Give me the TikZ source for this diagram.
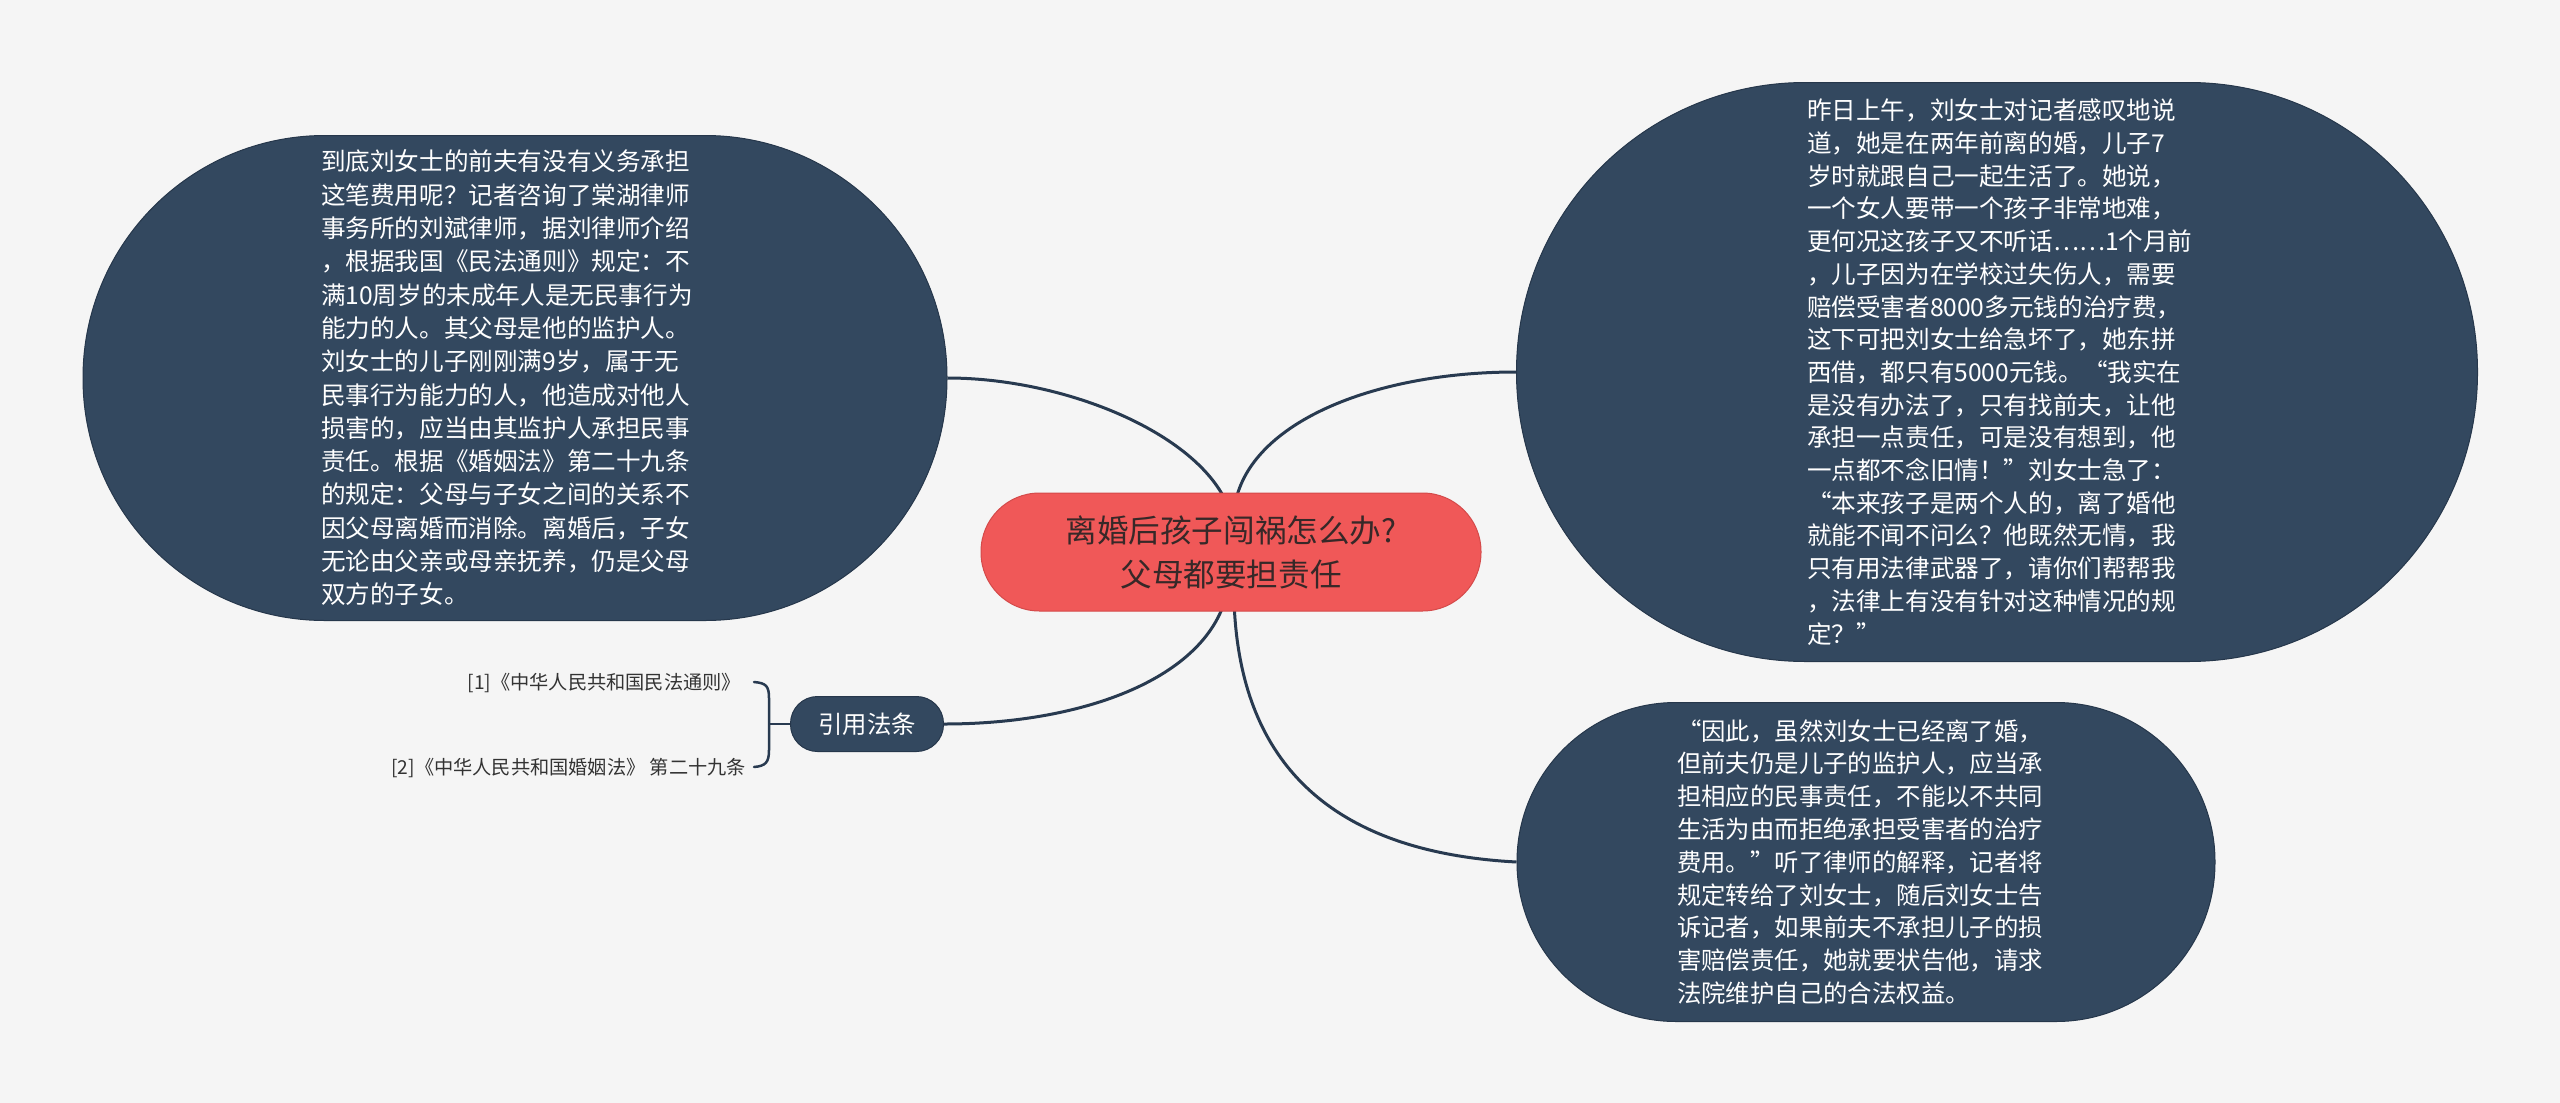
\documentclass[tikz,border=0pt]{standalone}
\usepackage{fontspec}
\newfontfamily\cjk{Noto Sans CJK SC}
\usetikzlibrary{calc}
\definecolor{bgcol}{RGB}{245,245,245}
\definecolor{nodeblue}{RGB}{51,72,95}
\definecolor{nodeedge}{RGB}{38,55,75}
\definecolor{linecol}{RGB}{40,58,80}
\definecolor{rootred}{RGB}{240,88,88}
\definecolor{rootedge}{RGB}{212,74,74}
\definecolor{roottext}{RGB}{55,40,40}
\definecolor{citetext}{RGB}{51,51,51}
\pgfdeclarelayer{bglayer}
\pgfsetlayers{bglayer,main}
\begin{document}
\begin{tikzpicture}[x=1pt,y=-1pt,
  dnode/.style={fill=nodeblue, draw=nodeedge, line width=1pt, inner sep=0pt,
    text=white, align=left},
  rootnode/.style={fill=rootred, draw=rootedge, line width=1pt, inner sep=0pt,
    text=roottext, align=center, font={\cjk\fontsize{31.6}{44}\selectfont},
    minimum width=500pt, minimum height=118pt, rounded corners=58.5pt},
  refnode/.style={fill=nodeblue, draw=nodeedge, line width=1pt, inner sep=0pt,
    text=white, font={\cjk\fontsize{24.4}{28}\selectfont},
    minimum width=153pt, minimum height=55pt, rounded corners=27pt},
  citenode/.style={inner sep=0pt, text=citetext, anchor=east,
    font={\cjk\fontsize{19.2}{23}\selectfont}},
  conn/.style={draw=linecol, line width=3pt}
]
\useasboundingbox (0,0) rectangle (2560,1103);

% left node
\node[dnode, minimum width=864pt, minimum height=485pt, rounded corners=242pt,
  text width=388pt, font={\cjk\fontsize{24.6}{33.3}\selectfont}] (left) at (515,378) {%
到底刘女士的前夫有没有义务承担\\
这笔费用呢？记者咨询了棠湖律师\\
事务所的刘斌律师，据刘律师介绍\\
，根据我国《民法通则》规定：不\\
满10周岁的未成年人是无民事行为\\
能力的人。其父母是他的监护人。\\
刘女士的儿子刚刚满9岁，属于无\\
民事行为能力的人，他造成对他人\\
损害的，应当由其监护人承担民事\\
责任。根据《婚姻法》第二十九条\\
的规定：父母与子女之间的关系不\\
因父母离婚而消除。离婚后，子女\\
无论由父亲或母亲抚养，仍是父母\\
双方的子女。};

% right top node
\node[dnode, minimum width=961pt, minimum height=579pt, rounded corners=289pt,
  text width=380pt, font={\cjk\fontsize{24.6}{32.7}\selectfont}] (rtop) at (1997,372) {%
昨日上午，刘女士对记者感叹地说\\
道，她是在两年前离的婚，儿子7\\
岁时就跟自己一起生活了。她说，\\
一个女人要带一个孩子非常地难，\\
更何况这孩子又不听话……1个月前\\
，儿子因为在学校过失伤人，需要\\
赔偿受害者8000多元钱的治疗费，\\
这下可把刘女士给急坏了，她东拼\\
西借，都只有5000元钱。“我实在\\
是没有办法了，只有找前夫，让他\\
承担一点责任，可是没有想到，他\\
一点都不念旧情！”刘女士急了：\\
“本来孩子是两个人的，离了婚他\\
就能不闻不问么？他既然无情，我\\
只有用法律武器了，请你们帮帮我\\
，法律上有没有针对这种情况的规\\
定？”};

% bottom right node
\node[dnode, minimum width=698pt, minimum height=319pt, rounded corners=159pt,
  text width=378pt, font={\cjk\fontsize{24.4}{32.8}\selectfont}] (rbot) at (1866,862) {%
“因此，虽然刘女士已经离了婚，\\
但前夫仍是儿子的监护人，应当承\\
担相应的民事责任，不能以不共同\\
生活为由而拒绝承担受害者的治疗\\
费用。”听了律师的解释，记者将\\
规定转给了刘女士，随后刘女士告\\
诉记者，如果前夫不承担儿子的损\\
害赔偿责任，她就要状告他，请求\\
法院维护自己的合法权益。};

% root
\node[rootnode] (root) at (1231,552) {离婚后孩子闯祸怎么办?\\父母都要担责任};

% citation node
\node[refnode] (ref) at (867,724) {引用法条};
\node[citenode] (c1) at (741,683) {[1]《中华人民共和国民法通则》};
\node[citenode] (c2) at (746,768) {[2]《中华人民共和国婚姻法》 第二十九条};

\coordinate (bmid) at ($(ref.west)+(-21,0)$);
\coordinate (btop) at ($(ref.west)+(-36,-42)$);
\coordinate (bbot) at ($(ref.west)+(-36,43)$);

\begin{pgfonlayer}{bglayer}
  \fill[bgcol] (0,0) rectangle (2560,1103);
  \draw[conn] (left.east) .. controls +(113,0) and +(-35,-70) .. ($(root.north)+(-6,7)$);
  \draw[conn] (rtop.west) .. controls +(-137,0) and +(19,-80) .. ($(root.north)+(5,7)$);
  \draw[conn] ($(root.south)+(3,-11)$) .. controls +(4,120) and +(-227,-12) .. (rbot.west);
  \draw[conn] (ref.east) .. controls +(136,0) and +(-25,80) .. ($(root.south)+(-6,-11)$);
\end{pgfonlayer}

% brace
\draw[conn, line width=2.5pt] (ref.west) -- (bmid);
\draw[conn, line width=2.5pt, line cap=round] (btop) .. controls +(12,1) and +(0,-12) .. ($(bmid)+(0,-26)$)
  -- ($(bmid)+(0,26)$) .. controls +(0,12) and +(12,-1) .. (bbot);
\end{tikzpicture}
\end{document}
